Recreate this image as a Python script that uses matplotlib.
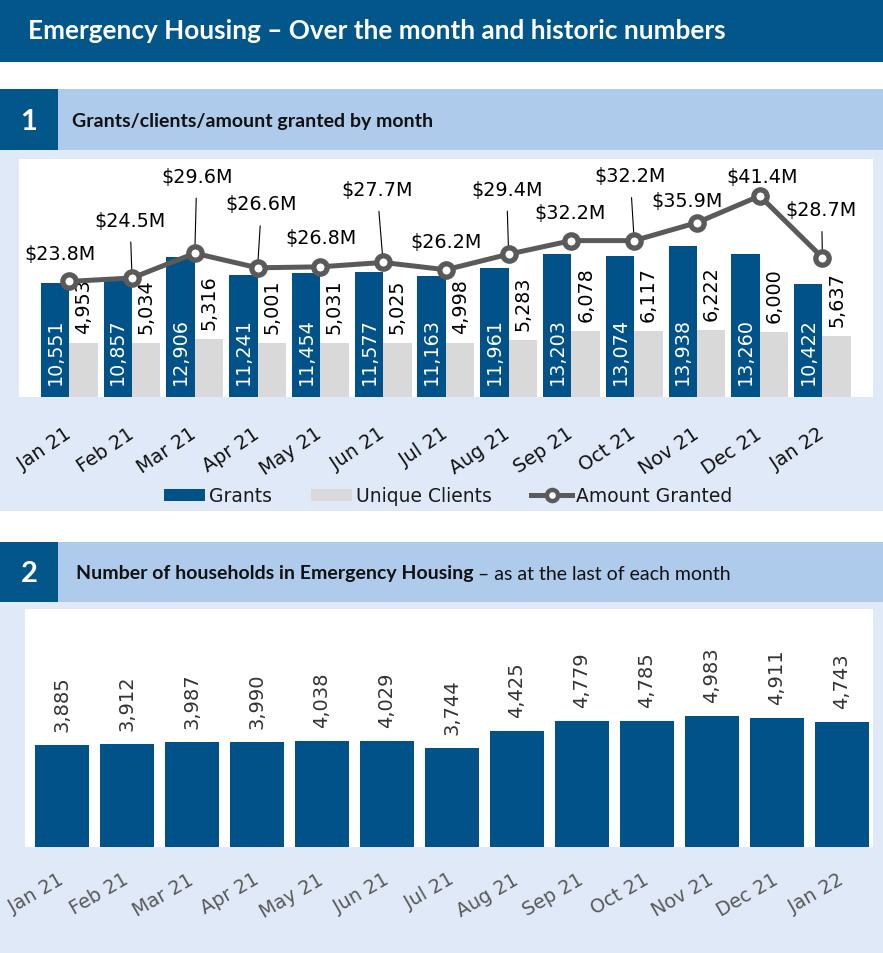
import matplotlib
matplotlib.use("Agg")
import matplotlib.pyplot as plt
from matplotlib.patches import Rectangle, Patch
from matplotlib.lines import Line2D
from matplotlib.transforms import ScaledTranslation

# ---------------- data ----------------
months = ['Jan 21', 'Feb 21', 'Mar 21', 'Apr 21', 'May 21', 'Jun 21', 'Jul 21',
          'Aug 21', 'Sep 21', 'Oct 21', 'Nov 21', 'Dec 21', 'Jan 22']
grants = [10551, 10857, 12906, 11241, 11454, 11577, 11163, 11961, 13203, 13074, 13938, 13260, 10422]
clients = [4953, 5034, 5316, 5001, 5031, 5025, 4998, 5283, 6078, 6117, 6222, 6000, 5637]
amounts = [23.8, 24.5, 29.6, 26.6, 26.8, 27.7, 26.2, 29.4, 32.2, 32.2, 35.9, 41.4, 28.7]
households = [3885, 3912, 3987, 3990, 4038, 4029, 3744, 4425, 4779, 4785, 4983, 4911, 4743]

# label offsets (pixels) for the amount labels
amount_label_offsets = [(-9, 28), (-2, 58), (2, 77), (4, 64), (1, 29), (-6, 73), (0, 28),
                        (-2, 65), (-1, 28), (-4, 65), (-10, 22), (2, 19), (-1, 48)]

# ---------------- style ----------------
W, H = 883, 954
DARK = '#02568a'
BAR_BLUE = '#005288'
LIGHT_HDR = '#aecbeb'
PANEL = '#dfe9f7'
GREY_BAR = '#d9d9d9'
LINE_GREY = '#5a5a5a'

fig = plt.figure(figsize=(W / 100, H / 100), dpi=100)
fig.patch.set_facecolor('white')


def fx(x):
    return x / W


def fy(y):
    return 1 - y / H


def rect(x0, y0, x1, y1, color):
    fig.patches.append(Rectangle((fx(x0), fy(y1)), fx(x1 - x0), (y1 - y0) / H,
                                 transform=fig.transFigure, color=color, zorder=-5, lw=0))


def axes_px(x0, y0, x1, y1):
    ax = fig.add_axes([fx(x0), fy(y1), fx(x1 - x0), (y1 - y0) / H])
    ax.set_zorder(2)
    return ax


def shift_ticklabels(ax, dx_px):
    off = ScaledTranslation(dx_px / 100, 0, fig.dpi_scale_trans)
    for lab in ax.get_xticklabels():
        lab.set_transform(lab.get_transform() + off)


# backgrounds
rect(0, 0, W, 63, DARK)
rect(0, 90, W, 151, LIGHT_HDR)
rect(0, 90, 58, 151, DARK)
rect(0, 151, W, 512, PANEL)
rect(0, 543, W, 603, LIGHT_HDR)
rect(0, 543, 58, 603, DARK)
rect(0, 603, W, H, PANEL)

# titles
fig.text(fx(28), fy(31), 'Emergency Housing – Over the month and historic numbers',
         color='white', fontsize=18.8, fontweight='bold', family='Lato', va='center', ha='left')
fig.text(fx(29), fy(122), '1', color='white', fontsize=21, fontweight='bold',
         family='Lato', va='center', ha='center')
fig.text(fx(72), fy(122), 'Grants/clients/amount granted by month', color='#111111',
         fontsize=14, fontweight='bold', family='Lato', va='center', ha='left')
fig.text(fx(29), fy(574), '2', color='white', fontsize=21, fontweight='bold',
         family='Lato', va='center', ha='center')
t2 = fig.text(fx(76), fy(574), 'Number of households in Emergency Housing', color='#111111',
              fontsize=14, fontweight='bold', family='Lato', va='center', ha='left')
fig.canvas.draw()
bb = t2.get_window_extent()
fig.text((bb.x1 + 4) / W, fy(574), '– as at the last of each month', color='#111111',
         fontsize=14, family='Lato', va='center', ha='left')

# ---------------- chart 1 ----------------
ax1 = axes_px(19.3, 160, 872.7, 398)
ax1.set_facecolor('white')
x = list(range(len(months)))
bw = 0.453
ax1.bar([i - bw / 2 for i in x], grants, width=bw, color=BAR_BLUE, zorder=2)
ax1.bar([i + bw / 2 for i in x], clients, width=bw, color=GREY_BAR, zorder=2)
ax1.set_ylim(0, 22000)
ax1.set_xlim(-0.796, 12.80)
for s in ax1.spines.values():
    s.set_visible(False)
ax1.set_yticks([])
ax1.set_xticks(x)
ax1.set_xticklabels(months, rotation=34, ha='right', fontsize=13.8, color='#111111')
ax1.tick_params(axis='x', length=0, pad=19)
shift_ticklabels(ax1, 5)

for i in x:
    ax1.annotate(f'{grants[i]:,}', (i - bw / 2, 0), xytext=(0, 13), textcoords='offset pixels',
                 rotation=90, ha='center', va='bottom', color='white', fontsize=13.8, zorder=3)
    ax1.annotate(f'{clients[i]:,}', (i + bw / 2, clients[i]), xytext=(0, 10),
                 textcoords='offset pixels', rotation=90, ha='center', va='bottom',
                 color='black', fontsize=13.8, zorder=3)

ax1b = ax1.twinx()
ax1b.set_zorder(3)
ax1b.patch.set_visible(False)
ax1b.set_ylim(0, 49)
ax1b.set_yticks([])
for s in ax1b.spines.values():
    s.set_visible(False)
ax1b.plot(x, amounts, color=LINE_GREY, lw=3.6, marker='o', ms=9.6, mfc='white',
          mec=LINE_GREY, mew=3.8, zorder=4)
for i in x:
    dx, dy = amount_label_offsets[i]
    ax1b.annotate(f'${amounts[i]}M', (i, amounts[i]), xytext=(dx, dy), textcoords='offset pixels',
                  ha='center', va='center', fontsize=13.8, color='black', zorder=2,
                  arrowprops=dict(arrowstyle='-', color='black', lw=0.8, shrinkA=7, shrinkB=2))

handles = [Patch(facecolor=BAR_BLUE, edgecolor='none'),
           Patch(facecolor=GREY_BAR, edgecolor='none'),
           Line2D([0], [0], color=LINE_GREY, lw=3.6, marker='o', ms=8, mfc='white',
                  mec=LINE_GREY, mew=3.2)]
fig.legend(handles, ['Grants', 'Unique Clients', 'Amount Granted'], loc='center',
           bbox_to_anchor=(fx(448), fy(497)), ncol=3, frameon=False, fontsize=13.5,
           handlelength=2.2, handleheight=0.6, handletextpad=0.2, columnspacing=2.1,
           labelcolor='#1a1a1a')

# ---------------- chart 2 ----------------
ax2 = axes_px(25, 610, 873, 848)
ax2.set_facecolor('white')
ax2.bar(x, households, width=0.83, color=BAR_BLUE, zorder=2)
ax2.set_ylim(0, 9040)
ax2.set_xlim(-0.57, 12.48)
for s in ax2.spines.values():
    s.set_visible(False)
ax2.set_yticks([])
ax2.set_xticks(x)
ax2.set_xticklabels(months, rotation=30, ha='right', fontsize=13.8, color='#595959')
ax2.tick_params(axis='x', length=0, pad=16)
shift_ticklabels(ax2, 5)
for i in x:
    ax2.annotate(f'{households[i]:,}', (i, households[i]), xytext=(0, 14),
                 textcoords='offset pixels', rotation=90, ha='center', va='bottom',
                 color='#333333', fontsize=14)

fig.savefig('out.png', dpi=100, facecolor='white')
